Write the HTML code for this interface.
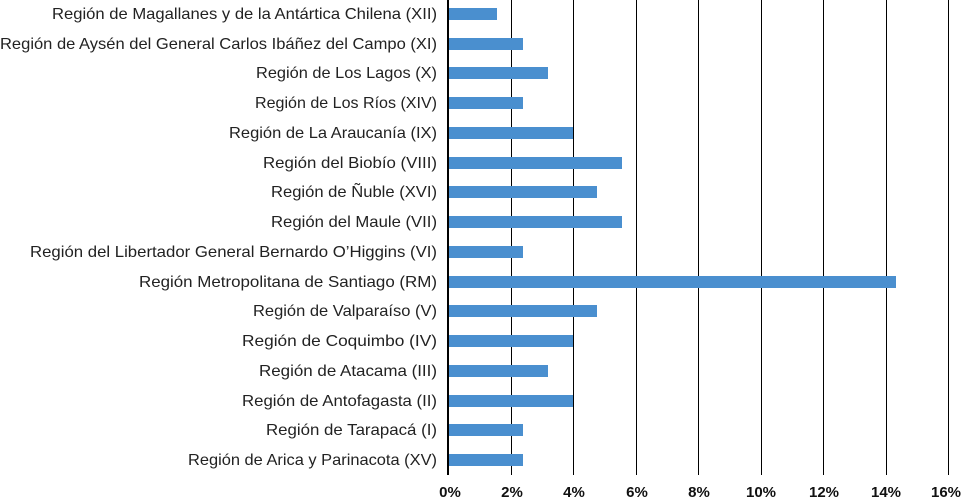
<!DOCTYPE html>
<html><head><meta charset="utf-8"><style>
html,body{margin:0;padding:0;background:#fff}
svg{display:block;font-family:"Liberation Sans",sans-serif}
</style></head><body>
<svg width="966" height="501" viewBox="0 0 966 501">
<g stroke="#000" stroke-width="1">
<line x1="511.5" y1="0" x2="511.5" y2="475"/>
<line x1="573.5" y1="0" x2="573.5" y2="475"/>
<line x1="636.5" y1="0" x2="636.5" y2="475"/>
<line x1="698.5" y1="0" x2="698.5" y2="475"/>
<line x1="761.5" y1="0" x2="761.5" y2="475"/>
<line x1="823.5" y1="0" x2="823.5" y2="475"/>
<line x1="886.5" y1="0" x2="886.5" y2="475"/>
<line x1="948.5" y1="0" x2="948.5" y2="475"/>
</g>
<g fill="#4a8fcf">
<rect x="449" y="8" width="48" height="12"/>
<rect x="449" y="38" width="74" height="12"/>
<rect x="449" y="67" width="99" height="12"/>
<rect x="449" y="97" width="74" height="12"/>
<rect x="449" y="127" width="124" height="12"/>
<rect x="449" y="157" width="173" height="12"/>
<rect x="449" y="186" width="148" height="12"/>
<rect x="449" y="216" width="173" height="12"/>
<rect x="449" y="246" width="74" height="12"/>
<rect x="449" y="276" width="447" height="12"/>
<rect x="449" y="305" width="148" height="12"/>
<rect x="449" y="335" width="124" height="12"/>
<rect x="449" y="365" width="99" height="12"/>
<rect x="449" y="395" width="124" height="12"/>
<rect x="449" y="424" width="74" height="12"/>
<rect x="449" y="454" width="74" height="12"/>
</g>
<line x1="448" y1="0" x2="448" y2="475" stroke="#000" stroke-width="2"/>
<g font-size="16" fill="#222" text-anchor="end">
<text x="437" y="19" textLength="385" lengthAdjust="spacingAndGlyphs">Región de Magallanes y de la Antártica Chilena (XII)</text>
<text x="437" y="49" textLength="437" lengthAdjust="spacingAndGlyphs">Región de Aysén del General Carlos Ibáñez del Campo (XI)</text>
<text x="437" y="78" textLength="181" lengthAdjust="spacingAndGlyphs">Región de Los Lagos (X)</text>
<text x="437" y="108" textLength="182" lengthAdjust="spacingAndGlyphs">Región de Los Ríos (XIV)</text>
<text x="437" y="138" textLength="208" lengthAdjust="spacingAndGlyphs">Región de La Araucanía (IX)</text>
<text x="437" y="168" textLength="174" lengthAdjust="spacingAndGlyphs">Región del Biobío (VIII)</text>
<text x="437" y="197" textLength="166" lengthAdjust="spacingAndGlyphs">Región de Ñuble (XVI)</text>
<text x="437" y="227" textLength="166" lengthAdjust="spacingAndGlyphs">Región del Maule (VII)</text>
<text x="437" y="257" textLength="407" lengthAdjust="spacingAndGlyphs">Región del Libertador General Bernardo O’Higgins (VI)</text>
<text x="437" y="287" textLength="298" lengthAdjust="spacingAndGlyphs">Región Metropolitana de Santiago (RM)</text>
<text x="437" y="316" textLength="184" lengthAdjust="spacingAndGlyphs">Región de Valparaíso (V)</text>
<text x="437" y="346" textLength="195" lengthAdjust="spacingAndGlyphs">Región de Coquimbo (IV)</text>
<text x="437" y="376" textLength="178" lengthAdjust="spacingAndGlyphs">Región de Atacama (III)</text>
<text x="437" y="406" textLength="195" lengthAdjust="spacingAndGlyphs">Región de Antofagasta (II)</text>
<text x="437" y="435" textLength="171" lengthAdjust="spacingAndGlyphs">Región de Tarapacá (I)</text>
<text x="437" y="465" textLength="249" lengthAdjust="spacingAndGlyphs">Región de Arica y Parinacota (XV)</text>
</g>
<g font-size="15" font-weight="bold" fill="#111" text-anchor="middle">
<text x="450" y="497">0%</text>
<text x="512" y="497">2%</text>
<text x="574" y="497">4%</text>
<text x="637" y="497">6%</text>
<text x="699" y="497">8%</text>
<text x="761" y="497">10%</text>
<text x="824" y="497">12%</text>
<text x="886" y="497">14%</text>
<text x="946" y="497">16%</text>
</g>
</svg>
</body></html>
